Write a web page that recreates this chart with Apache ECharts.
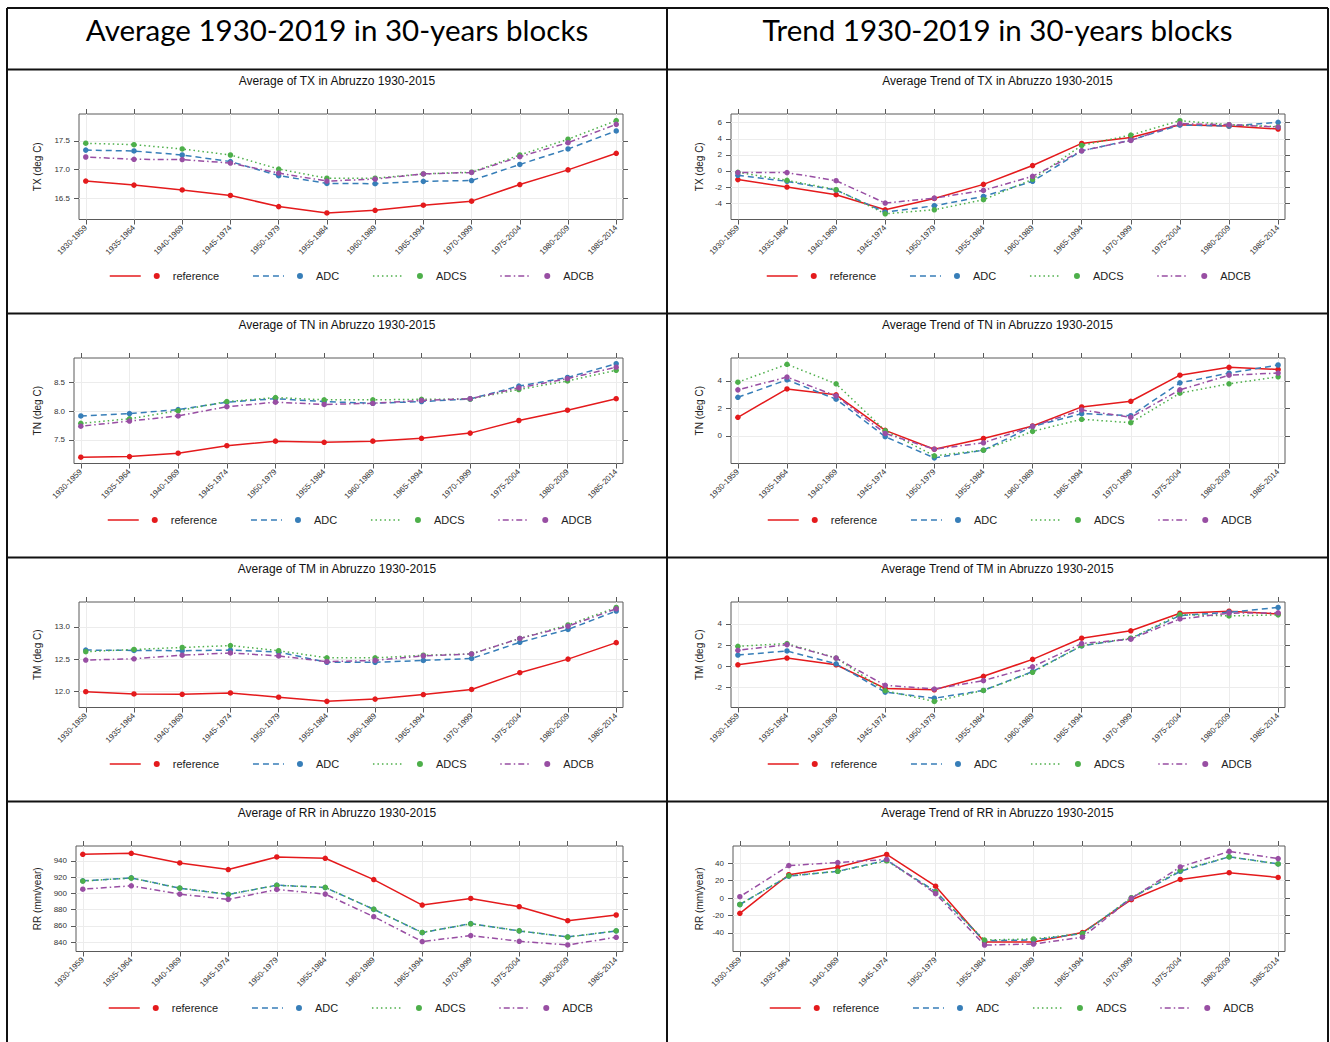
<!DOCTYPE html>
<html>
<head>
<meta charset="utf-8">
<script src="https://cdn.jsdelivr.net/npm/echarts@6/dist/echarts.min.js"></script>
<style>
html,body{margin:0;padding:0;background:#fff;}
#chart{width:1330px;height:1042px;}
</style>
</head>
<body>
<div id="chart"></div>
<script>
// ---------------- DATA ----------------
const categories = ['1930-1959','1935-1964','1940-1969','1945-1974','1950-1979','1955-1984',
                    '1960-1989','1965-1994','1970-1999','1975-2004','1980-2009','1985-2014'];
const seriesNames = ['reference','ADC','ADCS','ADCB'];

const headerLeft = 'Average 1930-2019 in 30-years blocks';
const headerRight = 'Trend 1930-2019 in 30-years blocks';

// TX average
const txAvgReference = [16.80,16.73,16.645,16.55,16.355,16.245,16.29,16.38,16.45,16.74,16.995,17.285];
const txAvgADC       = [17.34,17.325,17.255,17.14,16.895,16.76,16.755,16.795,16.81,17.09,17.36,17.675];
const txAvgADCS      = [17.46,17.435,17.36,17.255,17.01,16.85,16.85,16.925,16.955,17.255,17.53,17.855];
const txAvgADCB      = [17.22,17.18,17.175,17.115,16.94,16.80,16.835,16.925,16.95,17.225,17.47,17.79];
const txAvgTicks     = [16.5,17.0,17.5];

// TX trend
const txTrendReference = [-1.08,-2.0,-2.96,-4.83,-3.42,-1.67,0.67,3.42,4.17,5.75,5.58,5.21];
const txTrendADC       = [-0.54,-1.29,-2.38,-5.13,-4.33,-3.17,-1.29,2.5,3.83,5.71,5.58,6.04];
const txTrendADCS      = [-0.17,-1.17,-2.33,-5.33,-4.83,-3.58,-1.04,3.17,4.46,6.25,5.75,5.5];
const txTrendADCB      = [-0.21,-0.21,-1.21,-4.0,-3.38,-2.42,-0.67,2.5,3.79,5.88,5.75,5.46];
const txTrendTicks     = [-4,-2,0,2,4,6];

// TN average
const tnAvgReference = [7.20,7.21,7.27,7.40,7.48,7.46,7.48,7.53,7.62,7.84,8.02,8.22];
const tnAvgADC       = [7.92,7.96,8.03,8.16,8.22,8.17,8.14,8.17,8.215,8.44,8.59,8.83];
const tnAvgADCS      = [7.79,7.87,8.01,8.17,8.24,8.20,8.20,8.21,8.215,8.38,8.53,8.715];
const tnAvgADCB      = [7.74,7.83,7.92,8.08,8.16,8.12,8.14,8.19,8.22,8.41,8.57,8.77];
const tnAvgTicks     = [7.5,8.0,8.5];

// TN trend
const tnTrendReference = [1.34,3.41,2.98,0.39,-0.98,-0.20,0.71,2.10,2.51,4.41,4.98,4.83];
const tnTrendADC       = [2.80,4.07,2.66,-0.07,-1.61,-1.05,0.68,1.61,1.46,3.85,4.56,5.15];
const tnTrendADCS      = [3.90,5.20,3.78,0.37,-1.46,-1.05,0.32,1.20,0.95,3.10,3.78,4.29];
const tnTrendADCB      = [3.34,4.27,2.90,0.17,-0.98,-0.51,0.68,1.88,1.34,3.34,4.41,4.56];
const tnTrendTicks     = [0,2,4];

// TM average
const tmAvgReference = [11.995,11.96,11.955,11.975,11.91,11.845,11.88,11.95,12.03,12.29,12.50,12.755];
const tmAvgADC       = [12.64,12.635,12.63,12.64,12.61,12.45,12.45,12.48,12.51,12.76,12.96,13.245];
const tmAvgADCS      = [12.615,12.65,12.68,12.71,12.63,12.52,12.52,12.56,12.58,12.82,13.03,13.30];
const tmAvgADCB      = [12.485,12.505,12.56,12.595,12.55,12.46,12.48,12.55,12.58,12.82,13.01,13.28];
const tmAvgTicks     = [12.0,12.5,13.0];

// TM trend
const tmTrendReference = [0.13,0.77,0.13,-2.11,-2.24,-0.96,0.64,2.65,3.35,5.02,5.21,4.95];
const tmTrendADC       = [1.05,1.44,0.22,-2.46,-3.04,-2.30,-0.51,1.92,2.62,4.79,5.11,5.56];
const tmTrendADCS      = [1.88,2.14,0.77,-2.33,-3.35,-2.30,-0.58,1.95,2.65,4.89,4.76,4.86];
const tmTrendADCB      = [1.50,2.04,0.77,-1.82,-2.17,-1.37,-0.06,2.14,2.56,4.47,5.02,5.05];
const tmTrendTicks     = [-2,0,2,4];

// RR average
const rrAvgReference = [948.2,949.4,937.6,929.4,944.9,943.3,917.1,885.7,893.9,883.7,866.5,873.5];
const rrAvgADC       = [915.5,919.2,906.5,898.8,910.2,907.3,880.4,851.8,862.9,853.9,846.5,853.9];
const rrAvgADCS      = [915.3,919.0,906.6,899.0,910.0,907.5,880.6,852.0,862.7,854.1,846.3,854.1];
const rrAvgADCB      = [905.3,909.4,899.2,892.7,904.9,899.2,871.4,840.8,848.2,841.2,836.7,846.1];
const rrAvgTicks     = [840,860,880,900,920,940];

// RR trend
const rrTrendReference = [-17.5,26.8,35.3,50.1,13.6,-50.5,-50.5,-39.6,-1.9,21.4,29.1,23.7];
const rrTrendADC       = [-7.4,25.2,30.7,43.5,7.4,-48.9,-48.2,-40.8,0.0,30.7,47.4,39.2];
const rrTrendADCS      = [-7.4,25.6,30.7,42.7,7.0,-48.2,-47.0,-40.8,0.4,31.8,47.4,39.2];
const rrTrendADCB      = [1.6,37.3,40.8,44.3,5.0,-54.0,-52.8,-45.0,-0.4,35.7,53.6,45.4];
const rrTrendTicks     = [-40,-20,0,20,40];

// ---------------- STYLE / LAYOUT ----------------
const colors = ['#E41A1C','#377EB8','#4DAF4A','#984EA3'];
const dashes = ['solid',[6,4],[1.5,3],[1.5,3,6,3]];
const FONT = 'Liberation Sans, Arial, sans-serif';

const rowTops = [69.5, 313.5, 557.5, 801.5];
const colX = [7, 667, 1328];

const panels = [
  {title:'Average of TX in Abruzzo 1930-2015', yName:'TX (deg C)', series:[txAvgReference,txAvgADC,txAvgADCS,txAvgADCB], ticks:txAvgTicks, dec:1, min:16.13, max:17.97, col:0, row:0, boxL:79, legendL:109},
  {title:'Average Trend of TX in Abruzzo 1930-2015', yName:'TX (deg C)', series:[txTrendReference,txTrendADC,txTrendADCS,txTrendADCB], ticks:txTrendTicks, dec:0, min:-6.04, max:7.08, col:1, row:0, boxL:731, legendL:766},
  {title:'Average of TN in Abruzzo 1930-2015', yName:'TN (deg C)', series:[tnAvgReference,tnAvgADC,tnAvgADCS,tnAvgADCB], ticks:tnAvgTicks, dec:1, min:7.09, max:8.93, col:0, row:1, boxL:74, legendL:107},
  {title:'Average Trend of TN in Abruzzo 1930-2015', yName:'TN (deg C)', series:[tnTrendReference,tnTrendADC,tnTrendADCS,tnTrendADCB], ticks:tnTrendTicks, dec:0, min:-2.02, max:5.66, col:1, row:1, boxL:731, legendL:767},
  {title:'Average of TM in Abruzzo 1930-2015', yName:'TM (deg C)', series:[tmAvgReference,tmAvgADC,tmAvgADCS,tmAvgADCB], ticks:tmAvgTicks, dec:1, min:11.75, max:13.385, col:0, row:2, boxL:79, legendL:109},
  {title:'Average Trend of TM in Abruzzo 1930-2015', yName:'TM (deg C)', series:[tmTrendReference,tmTrendADC,tmTrendADCS,tmTrendADCB], ticks:tmTrendTicks, dec:0, min:-3.92, max:6.08, col:1, row:2, boxL:731, legendL:767},
  {title:'Average of RR in Abruzzo 1930-2015', yName:'RR (mm/year)', series:[rrAvgReference,rrAvgADC,rrAvgADCS,rrAvgADCB], ticks:rrAvgTicks, dec:0, min:828.6, max:958.4, col:0, row:3, boxL:76, legendL:108},
  {title:'Average Trend of RR in Abruzzo 1930-2015', yName:'RR (mm/year)', series:[rrTrendReference,rrTrendADC,rrTrendADCS,rrTrendADCB], ticks:rrTrendTicks, dec:0, min:-61.4, max:59.8, col:1, row:3, boxL:733, legendL:769}
];

const boxRights = [623, 1285];
const boxTopOffset = 44.5;
const boxHeight = 105.5;
const xIdx = categories.map((c, i) => i);

const grids = [], xAxes = [], yAxes = [], seriesList = [], legends = [], graphics = [];

const rich = {sp:{width:8}, sp2:{width:13}};
colors.forEach((c, j) => { rich['d' + j] = {width:6, height:6, borderRadius:3, backgroundColor:c}; });

panels.forEach((p, i) => {
  const top = rowTops[p.row] + boxTopOffset;
  const boxR = boxRights[p.col];
  grids.push({left:p.boxL, top:top, width:boxR - p.boxL, height:boxHeight, show:true,
              borderColor:'#5a5a5a', borderWidth:1, backgroundColor:'transparent', containLabel:false});
  const tickStyle = {show:true, length:5, inside:false, lineStyle:{color:'#5a5a5a', width:1}};
  const noLine = {show:false, onZero:false};
  // bottom x axis
  xAxes.push({type:'value', gridIndex:i, position:'bottom', min:-0.14, max:11.14,
    axisLine:noLine,
    axisTick:Object.assign({customValues:xIdx}, tickStyle),
    axisLabel:{customValues:xIdx, formatter:v => categories[Math.round(v)], rotate:45, fontSize:8,
               fontFamily:FONT, color:'#333', margin:7},
    splitLine:{show:true, lineStyle:{color:'#ececec', width:1}}});
  // top x axis (ticks only)
  xAxes.push({type:'value', gridIndex:i, position:'top', min:-0.14, max:11.14,
    axisLine:noLine, axisTick:Object.assign({customValues:xIdx}, tickStyle),
    axisLabel:{show:false}, splitLine:{show:false}});
  // left y axis
  const nameCenter = p.col === 0 ? 36 : 698;
  yAxes.push({type:'value', gridIndex:i, position:'left', min:p.min, max:p.max,
    axisLine:noLine,
    axisTick:Object.assign({customValues:p.ticks}, tickStyle),
    axisLabel:{customValues:p.ticks, formatter:v => Number(v).toFixed(p.dec), fontSize:8,
               fontFamily:FONT, color:'#333', margin:9},
    splitLine:{show:true, lineStyle:{color:'#ececec', width:1}},
    name:p.yName, nameLocation:'middle', nameGap:p.boxL - nameCenter - 6,
    nameTextStyle:{fontSize:10, fontFamily:FONT, color:'#222'}});
  // right y axis (ticks only)
  yAxes.push({type:'value', gridIndex:i, position:'right', min:p.min, max:p.max,
    axisLine:noLine, axisTick:Object.assign({customValues:p.ticks}, tickStyle),
    axisLabel:{show:false}, splitLine:{show:false}});

  p.series.forEach((vals, j) => {
    seriesList.push({
      type:'line', name:seriesNames[j], xAxisIndex:2*i, yAxisIndex:2*i,
      data:vals.map((v, k) => [k, v]),
      symbol:'circle', symbolSize:5.5, showSymbol:true,
      lineStyle:{color:colors[j], width:1.5, type:dashes[j]},
      itemStyle:{color:colors[j]},
      emphasis:{disabled:true}, silent:true, animation:false, z:2 + j
    });
  });

  legends.push({
    data:seriesNames, left:p.legendL, top:rowTops[p.row] + 201, orient:'horizontal', padding:0,
    itemWidth:31, itemHeight:8, itemGap:33, selectedMode:false,
    itemStyle:{opacity:0}, lineStyle:{width:1.5},
    textStyle:{fontSize:11, fontFamily:FONT, color:'#222', rich:rich},
    formatter:name => '{sp| }{d' + seriesNames.indexOf(name) + '| }{sp2| }' + name
  });

  // panel title
  graphics.push({type:'text', x:(colX[p.col] + colX[p.col + 1]) / 2, y:rowTops[p.row] + 11.5,
    style:{text:p.title, font:'12px ' + FONT, fill:'#111', align:'center', verticalAlign:'middle'}});
});

// table headers
graphics.push({type:'text', x:(colX[0] + colX[1]) / 2, y:29,
  style:{text:headerLeft, font:'29.5px Lato, sans-serif', fill:'#000', align:'center', verticalAlign:'middle'}});
graphics.push({type:'text', x:(colX[1] + colX[2]) / 2, y:29,
  style:{text:headerRight, font:'29.5px Lato, sans-serif', fill:'#000', align:'center', verticalAlign:'middle'}});

// table lines
const lineStyle = {stroke:'#111', lineWidth:2};
[8, 69.5, 313.5, 557.5, 801.5].forEach(y => {
  graphics.push({type:'line', shape:{x1:colX[0], y1:y, x2:colX[2], y2:y}, style:lineStyle, silent:true});
});
colX.forEach(x => {
  graphics.push({type:'line', shape:{x1:x, y1:8, x2:x, y2:1042}, style:lineStyle, silent:true});
});

const chart = echarts.init(document.getElementById('chart'), null, {renderer:'svg'});
chart.setOption({
  animation:false,
  backgroundColor:'#ffffff',
  grid:grids, xAxis:xAxes, yAxis:yAxes, series:seriesList, legend:legends,
  graphic:graphics
});
</script>
</body>
</html>
